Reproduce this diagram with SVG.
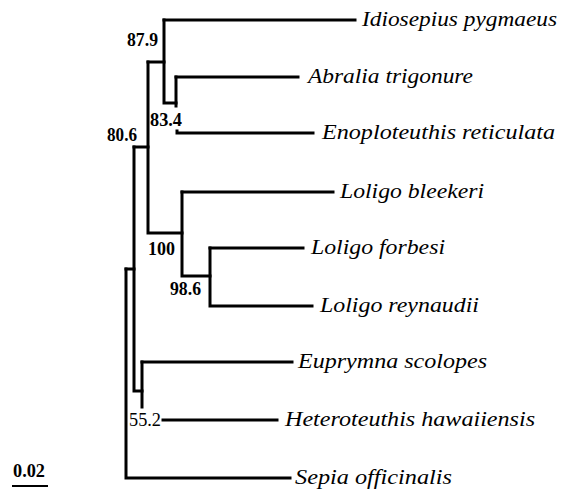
<svg xmlns="http://www.w3.org/2000/svg" width="566" height="494" viewBox="0 0 566 494">
<style>
.br{fill:none;stroke:#000;stroke-width:3;stroke-linecap:square;stroke-linejoin:miter}
.tx{font-family:"Liberation Serif","Times New Roman",serif;font-style:italic;font-size:20px;fill:#000}
.bs{font-family:"Liberation Serif","Times New Roman",serif;font-weight:bold;font-size:18px;fill:#000}
.nb{font-family:"Liberation Serif","Times New Roman",serif;font-size:18px;fill:#000}
</style>
<rect width="566" height="494" fill="#fff"/>
<g id="connectors" class="br">
<path d="M164 20 H355"/>
<path d="M164 20 V103 H176"/>
<path d="M176 77 V106"/>
<path d="M176 77 H298"/>
<path d="M177 131 V133 H313"/>
<path d="M148 62 H164"/>
<path d="M148 62 V233 H182"/>
<path d="M182 192 V276 H210"/>
<path d="M182 192 H333"/>
<path d="M210 248 V306 H312"/>
<path d="M210 248 H303"/>
<path d="M134 147 H148"/>
<path d="M134 147 V391 H142"/>
<path d="M142 362 V407"/>
<path d="M142 362 H292"/>
<path d="M163 420 H277"/>
<path d="M126 269 H134"/>
<path d="M126 269 V478 H290"/>
</g>
<g id="leaf-idiosepius"><text class="tx" x="362" y="26" textLength="195" lengthAdjust="spacingAndGlyphs">Idiosepius pygmaeus</text></g>
<g id="leaf-abralia"><text class="tx" x="308" y="83" textLength="165" lengthAdjust="spacingAndGlyphs">Abralia trigonure</text></g>
<g id="leaf-enoploteuthis"><text class="tx" x="322" y="139" textLength="233" lengthAdjust="spacingAndGlyphs">Enoploteuthis reticulata</text></g>
<g id="leaf-bleekeri"><text class="tx" x="340" y="198" textLength="144" lengthAdjust="spacingAndGlyphs">Loligo bleekeri</text></g>
<g id="leaf-forbesi"><text class="tx" x="311" y="254" textLength="134" lengthAdjust="spacingAndGlyphs">Loligo forbesi</text></g>
<g id="leaf-reynaudii"><text class="tx" x="320" y="312" textLength="159" lengthAdjust="spacingAndGlyphs">Loligo reynaudii</text></g>
<g id="leaf-euprymna"><text class="tx" x="298" y="368" textLength="189" lengthAdjust="spacingAndGlyphs">Euprymna scolopes</text></g>
<g id="leaf-heteroteuthis"><text class="tx" x="285" y="426" textLength="250" lengthAdjust="spacingAndGlyphs">Heteroteuthis hawaiiensis</text></g>
<g id="leaf-sepia"><text class="tx" x="295" y="484" textLength="157" lengthAdjust="spacingAndGlyphs">Sepia officinalis</text></g>
<g id="node-87.9"><text class="bs" x="127" y="46" textLength="31" lengthAdjust="spacingAndGlyphs">87.9</text></g>
<g id="node-83.4"><text class="bs" x="150" y="126" textLength="32" lengthAdjust="spacingAndGlyphs">83.4</text></g>
<g id="node-80.6"><text class="bs" x="107" y="141" textLength="30" lengthAdjust="spacingAndGlyphs">80.6</text></g>
<g id="node-100"><text class="bs" x="148" y="255" textLength="27" lengthAdjust="spacingAndGlyphs">100</text></g>
<g id="node-98.6"><text class="bs" x="170" y="295" textLength="31" lengthAdjust="spacingAndGlyphs">98.6</text></g>
<g id="node-55.2"><text class="nb" x="129" y="426" textLength="32" lengthAdjust="spacingAndGlyphs">55.2</text></g>
<g id="scale-bar">
<text class="bs" x="13" y="477" textLength="32" lengthAdjust="spacingAndGlyphs">0.02</text>
<path d="M12 486 H48" stroke="#000" stroke-width="2"/>
</g>
</svg>
